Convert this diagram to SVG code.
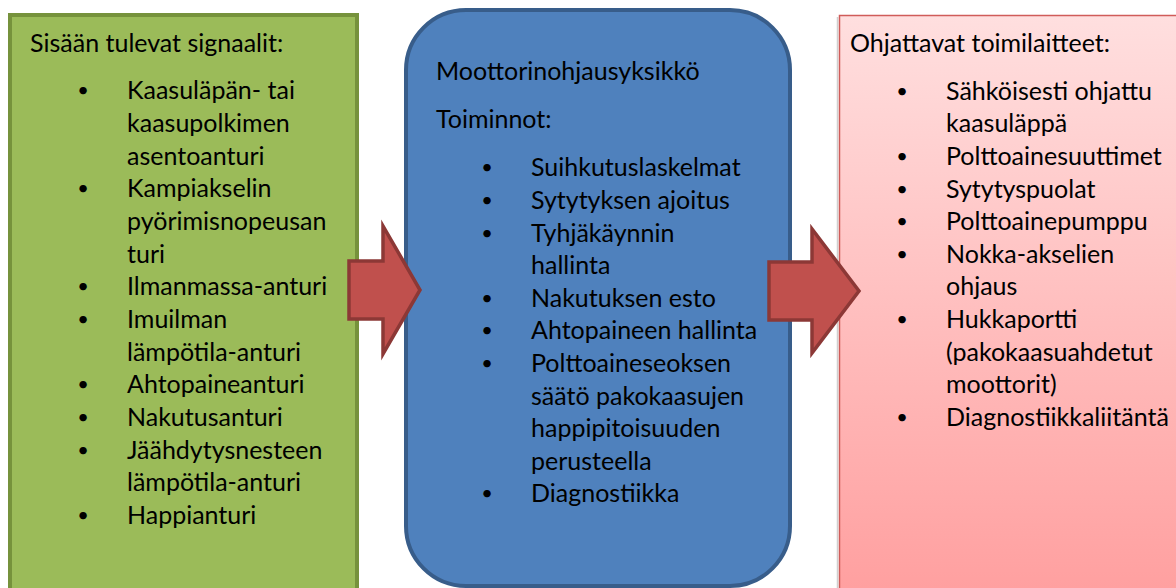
<svg xmlns="http://www.w3.org/2000/svg" width="1176" height="588" viewBox="0 0 1176 588">
<defs>
<linearGradient id="pinkGrad" gradientUnits="userSpaceOnUse" x1="0" y1="15" x2="0" y2="588">
<stop offset="0" stop-color="#FFDFDF"/>
<stop offset="1" stop-color="#FFA0A0"/>
</linearGradient>
<style>
text{font-family:Lato,"Liberation Sans",sans-serif;font-size:25px;fill:#000}
text.b{font-size:20px;text-anchor:middle}
.arrow{fill:#C0504D;stroke:#8C3836;stroke-width:3.5;stroke-linejoin:miter}
</style>
</defs>
<rect width="1176" height="588" fill="#FFFFFF"/>
<g id="inputs">
<rect x="10" y="15" width="347" height="590" fill="#9BBB59" stroke="#76923C" stroke-width="4"/>
<text x="30" y="52">Sisään tulevat signaalit:</text>
<text class="b" x="83" y="97">•</text><text x="127" y="99">Kaasuläpän- tai</text>
<text x="127" y="132">kaasupolkimen</text>
<text x="127" y="165">asentoanturi</text>
<text class="b" x="83" y="195">•</text><text x="127" y="197">Kampiakselin</text>
<text x="127" y="230">pyörimisnopeusan</text>
<text x="127" y="263">turi</text>
<text class="b" x="83" y="293">•</text><text x="127" y="295">Ilmanmassa-anturi</text>
<text class="b" x="83" y="326">•</text><text x="127" y="328">Imuilman</text>
<text x="127" y="361">lämpötila-anturi</text>
<text class="b" x="83" y="391">•</text><text x="127" y="393">Ahtopaineanturi</text>
<text class="b" x="83" y="424">•</text><text x="127" y="426">Nakutusanturi</text>
<text class="b" x="83" y="457">•</text><text x="127" y="459">Jäähdytysnesteen</text>
<text x="127" y="491">lämpötila-anturi</text>
<text class="b" x="83" y="522">•</text><text x="127" y="524">Happianturi</text>
</g>
<g id="ecu">
<rect x="406" y="10" width="384" height="576" rx="60" ry="60" fill="#4F81BD" stroke="#385D8A" stroke-width="4"/>
<text x="436" y="80">Moottorinohjausyksikkö</text>
<text x="436" y="128">Toiminnot:</text>
<text class="b" x="487" y="174">•</text><text x="531" y="176">Suihkutuslaskelmat</text>
<text class="b" x="487" y="207">•</text><text x="531" y="209">Sytytyksen ajoitus</text>
<text class="b" x="487" y="240">•</text><text x="531" y="242">Tyhjäkäynnin</text>
<text x="531" y="274">hallinta</text>
<text class="b" x="487" y="305">•</text><text x="531" y="307">Nakutuksen esto</text>
<text class="b" x="487" y="337">•</text><text x="531" y="339">Ahtopaineen hallinta</text>
<text class="b" x="487" y="370">•</text><text x="531" y="372">Polttoaineseoksen</text>
<text x="531" y="405">säätö pakokaasujen</text>
<text x="531" y="437">happipitoisuuden</text>
<text x="531" y="470">perusteella</text>
<text class="b" x="487" y="500">•</text><text x="531" y="502">Diagnostiikka</text>
</g>
<g id="actuators">
<line x1="837.5" y1="17" x2="837.5" y2="588" stroke="#D0D0D0" stroke-width="1.5"/>
<rect x="839.5" y="15.5" width="345" height="590" fill="url(#pinkGrad)" stroke="#D05C5A" stroke-width="1.5"/>
<text x="850" y="52">Ohjattavat toimilaitteet:</text>
<text class="b" x="902" y="98">•</text><text x="946" y="100">Sähköisesti ohjattu</text>
<text x="946" y="132">kaasuläppä</text>
<text class="b" x="902" y="163">•</text><text x="946" y="165">Polttoainesuuttimet</text>
<text class="b" x="902" y="196">•</text><text x="946" y="198">Sytytyspuolat</text>
<text class="b" x="902" y="228">•</text><text x="946" y="230">Polttoainepumppu</text>
<text class="b" x="902" y="261">•</text><text x="946" y="263">Nokka-akselien</text>
<text x="946" y="295">ohjaus</text>
<text class="b" x="902" y="326">•</text><text x="946" y="328">Hukkaportti</text>
<text x="946" y="361">(pakokaasuahdetut</text>
<text x="946" y="393">moottorit)</text>
<text class="b" x="902" y="424">•</text><text x="946" y="426">Diagnostiikkaliitäntä</text>
</g>
<g id="connectors">
<polygon class="arrow" points="349,261 383,261 383,226 420,290 383,354 383,319 349,319"/>
<polygon class="arrow" points="769,262 812,262 812,229 859,291 812,353 812,320 769,320"/>
</g>
</svg>
